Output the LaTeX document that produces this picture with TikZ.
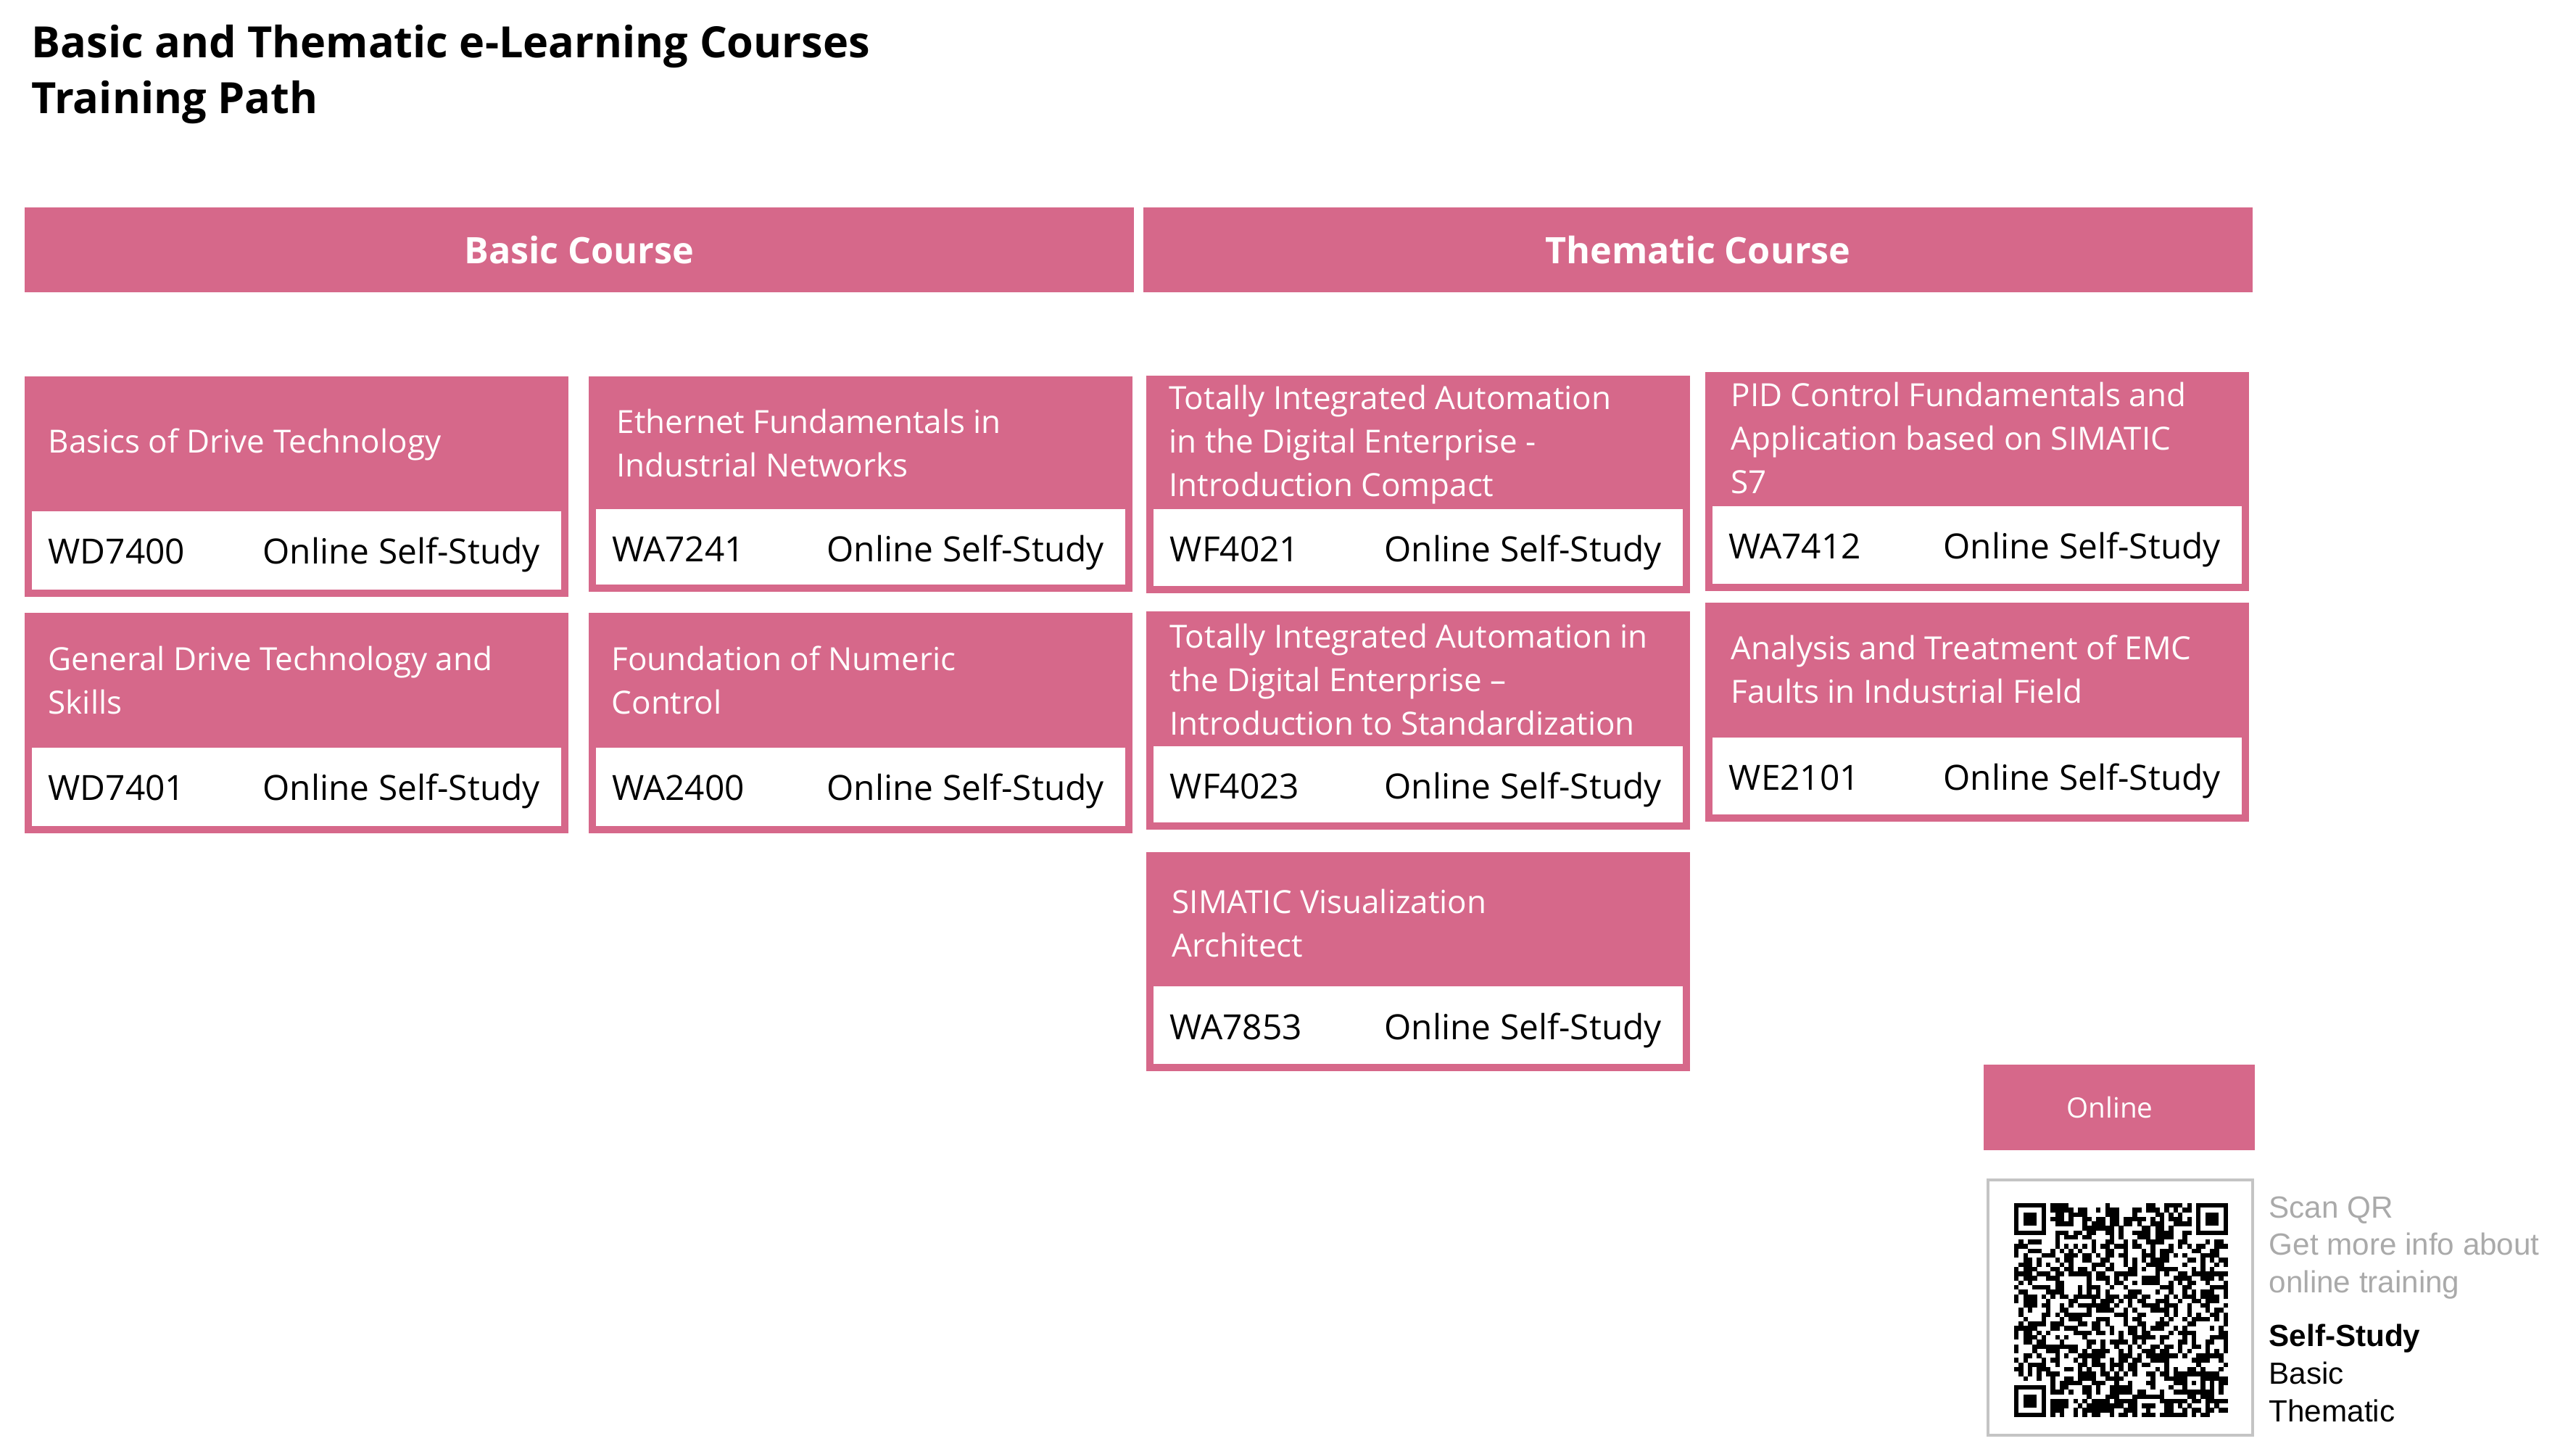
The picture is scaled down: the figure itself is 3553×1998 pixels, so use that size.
\documentclass[tikz,border=0pt]{standalone}
\usepackage{fontspec}
\setmainfont{Open Sans}
\newfontfamily\arialf{Liberation Sans}
\definecolor{pk}{RGB}{214,104,138}
\definecolor{qrgray}{RGB}{196,196,196}
\definecolor{txtgray}{RGB}{170,170,170}
\tikzset{
  cardtitle/.style={anchor=base west, inner sep=0pt, text=white, align=left,
    font=\fontsize{12.5pt}{17.2pt}\selectfont},
  codetext/.style={anchor=base west, inner sep=0pt, text=black,
    font=\fontsize{13.6pt}{16pt}\selectfont},
  headtext/.style={inner sep=0pt, text=white, font=\bfseries\fontsize{14.3pt}{17pt}\selectfont},
  sidetext/.style={anchor=base west, inner sep=0pt, font=\arialf\fontsize{12pt}{14.8pt}\selectfont},
}
% #7 = baseline of the LAST line of the title
\newcommand\coursecard[9]{%
  \fill[pk] (#2,#3) rectangle (#2+750,#5);
  \fill[white] (#2+10,#4) rectangle (#2+740,#5-10);
  \node[cardtitle] (#1t) at (#6,#7) {#8};
  \node[codetext] (#1c) at (#2+32,#4+73) {#9};
  \node[codetext] (#1o) at (#2+328,#4+73) {Online Self-Study};
}
\begin{document}
\begin{tikzpicture}[x=0.01cm,y=-0.01cm]
\useasboundingbox[fill=white] (0,0) rectangle (3553,1998);

% title
\node[anchor=base west, inner sep=0pt, align=left,
  font=\bfseries\fontsize{16.9pt}{21.9pt}\selectfont] (title) at (43,157)
  {Basic and Thematic e-Learning Courses\\Training Path};

% header bars
\fill[pk] (34,286) rectangle (1564,403);
\node[headtext] (basichead) at (799,345) {Basic Course};
\fill[pk] (1577,286) rectangle (3107,403);
\node[headtext] (themhead) at (2342,345) {Thematic Course};

% column 1
\coursecard{a}{34}{519}{705}{823}{66}{625}{Basics of Drive Technology}{WD7400}
\coursecard{b}{34}{845}{1031}{1149}{66}{985}{General Drive Technology and\\Skills}{WD7401}
% column 2
\coursecard{c}{812}{519}{702}{816}{850}{658}{Ethernet Fundamentals in\\Industrial Networks}{WA7241}
\coursecard{d}{812}{845}{1031}{1149}{843}{985}{Foundation of Numeric\\Control}{WA2400}
% column 3
\coursecard{e}{1581}{518}{702}{818}{1612}{685}{Totally Integrated Automation\\in the Digital Enterprise -\\Introduction Compact}{WF4021}
\coursecard{f}{1581}{843}{1029}{1144}{1613}{1014}{Totally Integrated Automation in\\the Digital Enterprise --\\Introduction to Standardization}{WF4023}
\coursecard{g}{1581}{1175}{1360}{1477}{1616}{1320}{SIMATIC Visualization\\Architect}{WA7853}
% column 4
\coursecard{h}{2352}{513}{698}{815}{2387}{681}{PID Control Fundamentals and\\Application based on SIMATIC\\S7}{WA7412}
\coursecard{i}{2352}{831}{1017}{1133}{2387}{970}{Analysis and Treatment of EMC\\Faults in Industrial Field}{WE2101}

% online box
\fill[pk] (2736,1468) rectangle (3110,1586);
\node[inner sep=0pt, text=white, font=\fontsize{11pt}{13pt}\selectfont] (online) at (2910,1527) {Online};

% QR code frame
\draw[qrgray, line width=1pt] (2742,1627) rectangle (3107,1979);
\pgfmathsetseed{4711}
\foreach \i in {0,...,46}{%
  \foreach \j in {0,...,46}{%
    \pgfmathrandominteger{\qrbit}{0}{1}%
    \ifnum\qrbit=1 \fill[black] (2778+\i*6.277,1659+\j*6.277) rectangle ++(6.4,6.4);\fi
  }%
}
\foreach \fx/\fy in {0/0,40/0,0/40}{%
  \pgfmathsetmacro\ox{2778+\fx*6.277}%
  \pgfmathsetmacro\oy{1659+\fy*6.277}%
  \fill[white] (\ox-6.277,\oy-6.277) rectangle ++(9*6.277,9*6.277);
  \fill[black] (\ox,\oy) rectangle ++(7*6.277,7*6.277);
  \fill[white] (\ox+6.277,\oy+6.277) rectangle ++(5*6.277,5*6.277);
  \fill[black] (\ox+2*6.277,\oy+2*6.277) rectangle ++(3*6.277,3*6.277);
}
\fill[white] (2742+2,1627+2) rectangle (2778,1977);
\fill[white] (3074,1629) rectangle (3105,1977);
\fill[white] (2744,1629) rectangle (3105,1659);
\fill[white] (2744,1954) rectangle (3105,1977);
\fill[black] (2778+37*6.277,1659+37*6.277) rectangle ++(5*6.277,5*6.277);
\fill[white] (2778+38*6.277,1659+38*6.277) rectangle ++(3*6.277,3*6.277);
\fill[black] (2778+39*6.277,1659+39*6.277) rectangle ++(6.277,6.277);

% side texts
\node[sidetext, text=txtgray] (scan) at (3129,1679) {Scan QR};
\node[sidetext, text=txtgray] (info1) at (3129,1730) {Get more info about};
\node[sidetext, text=txtgray] (info2) at (3129,1782) {online training};
\node[sidetext, font=\arialf\bfseries\fontsize{12pt}{14.8pt}\selectfont] (ss) at (3129,1856) {Self-Study};
\node[sidetext] (basic) at (3129,1908) {Basic};
\node[sidetext] (them) at (3129,1960) {Thematic};
\end{tikzpicture}
\end{document}
